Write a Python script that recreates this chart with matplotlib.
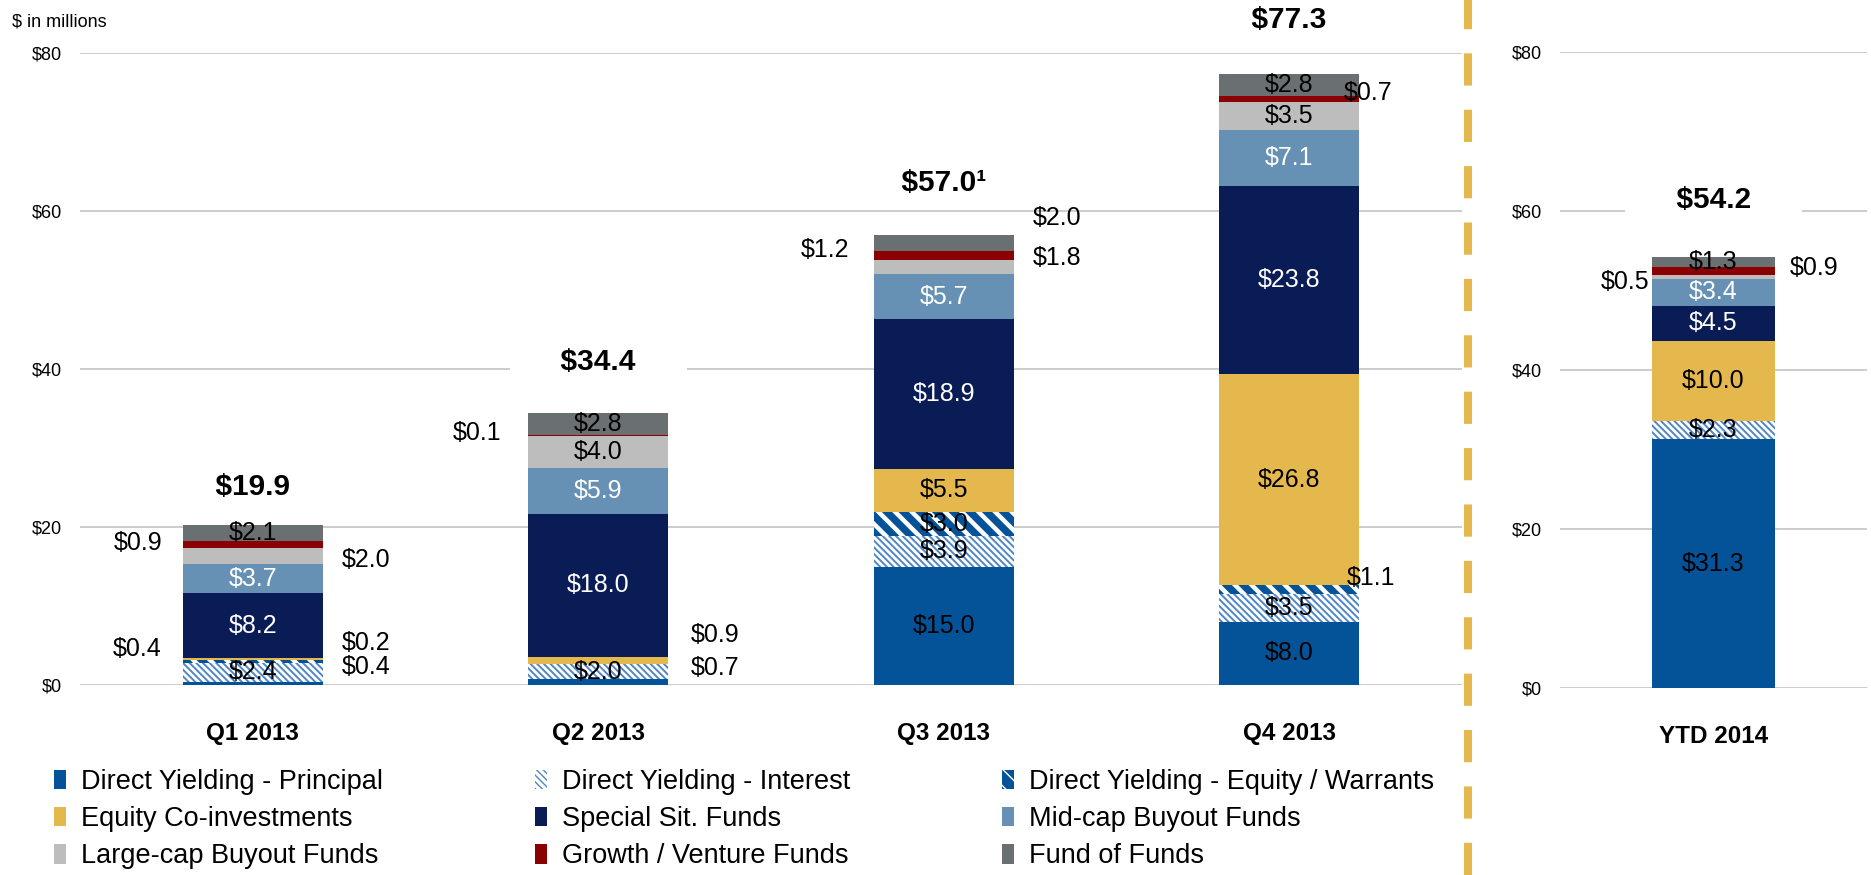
import matplotlib
matplotlib.use("Agg")
import matplotlib.pyplot as plt
from matplotlib.lines import Line2D
import numpy as np

plt.rcParams['font.family'] = ['Liberation Sans', 'DejaVu Sans']

# data ($ in millions)
categories = ['Q1 2013', 'Q2 2013', 'Q3 2013', 'Q4 2013']
ytd_categories = ['YTD 2014']

series_names = ['Direct Yielding - Principal', 'Direct Yielding - Interest',
                'Direct Yielding - Equity / Warrants', 'Equity Co-investments',
                'Special Sit. Funds', 'Mid-cap Buyout Funds',
                'Large-cap Buyout Funds', 'Growth / Venture Funds', 'Fund of Funds']

principal = [0.4, 0.7, 15.0, 8.0]
interest = [2.4, 2.0, 3.9, 3.5]
equity_warrants = [0.4, 0.0, 3.0, 1.1]
equity_coinv = [0.2, 0.9, 5.5, 26.8]
special_sit = [8.2, 18.0, 18.9, 23.8]
mid_cap = [3.7, 5.9, 5.7, 7.1]
large_cap = [2.0, 4.0, 1.8, 3.5]
growth_venture = [0.9, 0.1, 1.2, 0.7]
fund_of_funds = [2.1, 2.8, 2.0, 2.8]
quarter_totals = ['$19.9', '$34.4', '$57.0\u00b9', '$77.3']

ytd_2014 = [31.3, 2.3, 0.0, 10.0, 4.5, 3.4, 0.5, 0.9, 1.3]  # same order as series_names
ytd_totals = ['$54.2']

yticks = [0, 20, 40, 60, 80]
ytick_labels = ['$0', '$20', '$40', '$60', '$80']

# styles
GOLD = '#e5b84e'
styles = [
    dict(fc='#045399', ec='#045399', hatch=None, hlw=1.0, tc='black'),
    dict(fc='white', ec='#4f86c4', hatch='\\' * 5, hlw=1.4, tc='black'),
    dict(fc='#045399', ec='white', hatch='\\' * 2, hlw=3.2, tc='black'),
    dict(fc=GOLD, ec=GOLD, hatch=None, hlw=1.0, tc='black'),
    dict(fc='#0a1c56', ec='#0a1c56', hatch=None, hlw=1.0, tc='white'),
    dict(fc='#6690b4', ec='#6690b4', hatch=None, hlw=1.0, tc='white'),
    dict(fc='#bdbdbd', ec='#bdbdbd', hatch=None, hlw=1.0, tc='black'),
    dict(fc='#8b0000', ec='#8b0000', hatch=None, hlw=1.0, tc='black'),
    dict(fc='#6a7071', ec='#6a7071', hatch=None, hlw=1.0, tc='black'),
]

# labels drawn beside the bar: (side, dx pt, dy pt)
outside = {
    (0, 'Q1 2013'): ('R', 14, 12), (2, 'Q1 2013'): ('L', -15, 9),
    (3, 'Q1 2013'): ('R', 14, 11.4), (6, 'Q1 2013'): ('R', 14, -3),
    (7, 'Q1 2013'): ('L', -15, 1.5),
    (0, 'Q2 2013'): ('R', 16, 10), (3, 'Q2 2013'): ('R', 16, 18),
    (7, 'Q2 2013'): ('L', -19, 2),
    (7, 'Q3 2013'): ('L', -18, 4), (6, 'Q3 2013'): ('R', 14, 6.5),
    (8, 'Q3 2013'): ('R', 14, 17.6),
    (2, 'Q4 2013'): ('R', -8.6, 8.3), (7, 'Q4 2013'): ('R', -11, 4.3),
    (6, 'YTD 2014'): ('L', -2, -3.6), (7, 'YTD 2014'): ('R', 11, 2),
}
total_offsets = {'Q1 2013': 27, 'Q2 2013': 37, 'Q3 2013': 37, 'Q4 2013': 39, 'YTD 2014': 41}

W, H = 1871, 875
fig = plt.figure(figsize=(W / 100, H / 100), dpi=100)
ax = fig.add_axes([80 / W, 1 - 685 / H, 1382 / W, 632 / H])
ax2 = fig.add_axes([1560 / W, 1 - 688 / H, 307 / W, 636 / H])


def draw_stack(ax, cats, data, totals, width):
    xs = np.arange(len(cats))
    bottoms = np.zeros(len(cats))
    handles = []
    for k, (name, vals, st) in enumerate(zip(series_names, data, styles)):
        vals = np.asarray(vals, dtype=float)
        with plt.rc_context({'hatch.linewidth': st['hlw']}):
            bars = ax.bar(xs, vals, width, bottom=bottoms, color=st['fc'],
                          edgecolor=st['ec'], hatch=st['hatch'], linewidth=0,
                          zorder=2, label=name)
            for r in bars:
                if hasattr(r, 'set_hatch_linewidth'):
                    r.set_hatch_linewidth(st['hlw'])
        handles.append(bars)
        for i, (rect, v) in enumerate(zip(bars, vals)):
            if v == 0:
                continue
            mid = bottoms[i] + v / 2
            txt = '${:.1f}'.format(v)
            key = (k, cats[i])
            if key in outside:
                side, dx, dy = outside[key]
                x = rect.get_x() + (rect.get_width() if side == 'R' else 0)
                ax.annotate(txt, (x, mid), xytext=(dx, dy), textcoords='offset points',
                            ha='left' if side == 'R' else 'right', va='center',
                            fontsize=18, zorder=4)
            else:
                ax.text(rect.get_x() + rect.get_width() / 2, mid, txt, ha='center',
                        va='center', color=st['tc'], fontsize=18, zorder=4)
        bottoms += vals
    for i, t in enumerate(totals):
        ax.annotate('      ' + t + '      ', (xs[i], bottoms[i]),
                    xytext=(0, total_offsets[cats[i]]), textcoords='offset points',
                    ha='center', va='center', fontsize=21.5, fontweight='bold',
                    annotation_clip=False, zorder=5,
                    bbox=dict(boxstyle='square,pad=0.05', fc='white', ec='none'))
    ax.set_xticks(xs)
    ax.set_xticklabels(cats, fontsize=17.5, fontweight='bold')
    ax.set_xlim(-0.5, len(cats) - 0.5)
    ax.set_ylim(0, 80)
    ax.set_yticks(yticks)
    ax.set_yticklabels(ytick_labels, fontsize=13)
    ax.tick_params(axis='x', length=0, pad=26.5)
    ax.tick_params(axis='y', length=0, pad=13)
    ax.yaxis.grid(True, color='#bfbfbf', linewidth=1.1)
    ax.set_axisbelow(True)
    for s in ax.spines.values():
        s.set_visible(False)
    return handles


quarter_data = [principal, interest, equity_warrants, equity_coinv, special_sit,
                mid_cap, large_cap, growth_venture, fund_of_funds]
handles = draw_stack(ax, categories, quarter_data, quarter_totals, 0.405)
draw_stack(ax2, ytd_categories, [[v] for v in ytd_2014], ytd_totals, 0.4)

fig.text(12 / W, 1 - 22 / H, '$ in millions', ha='left', va='center', fontsize=13)

# dashed separator
sep = Line2D([1468 / W, 1468 / W], [0, 1], transform=fig.transFigure, color=GOLD,
             linewidth=5.8, solid_capstyle='butt')
sep.set_dashes((4, 3))
fig.add_artist(sep)

# legend, row-wise order
order = [0, 3, 6, 1, 4, 7, 2, 5, 8]
fig.legend([handles[i] for i in order], [series_names[i] for i in order],
           loc='upper left', bbox_to_anchor=(54 / W, 1 - 769 / H), ncol=3,
           frameon=False, fontsize=19.5, handlelength=0.45, handleheight=0.74,
           handletextpad=0.55, columnspacing=5.6, labelspacing=0.41,
           borderpad=0, borderaxespad=0)

fig.savefig('out.png', dpi=100)
